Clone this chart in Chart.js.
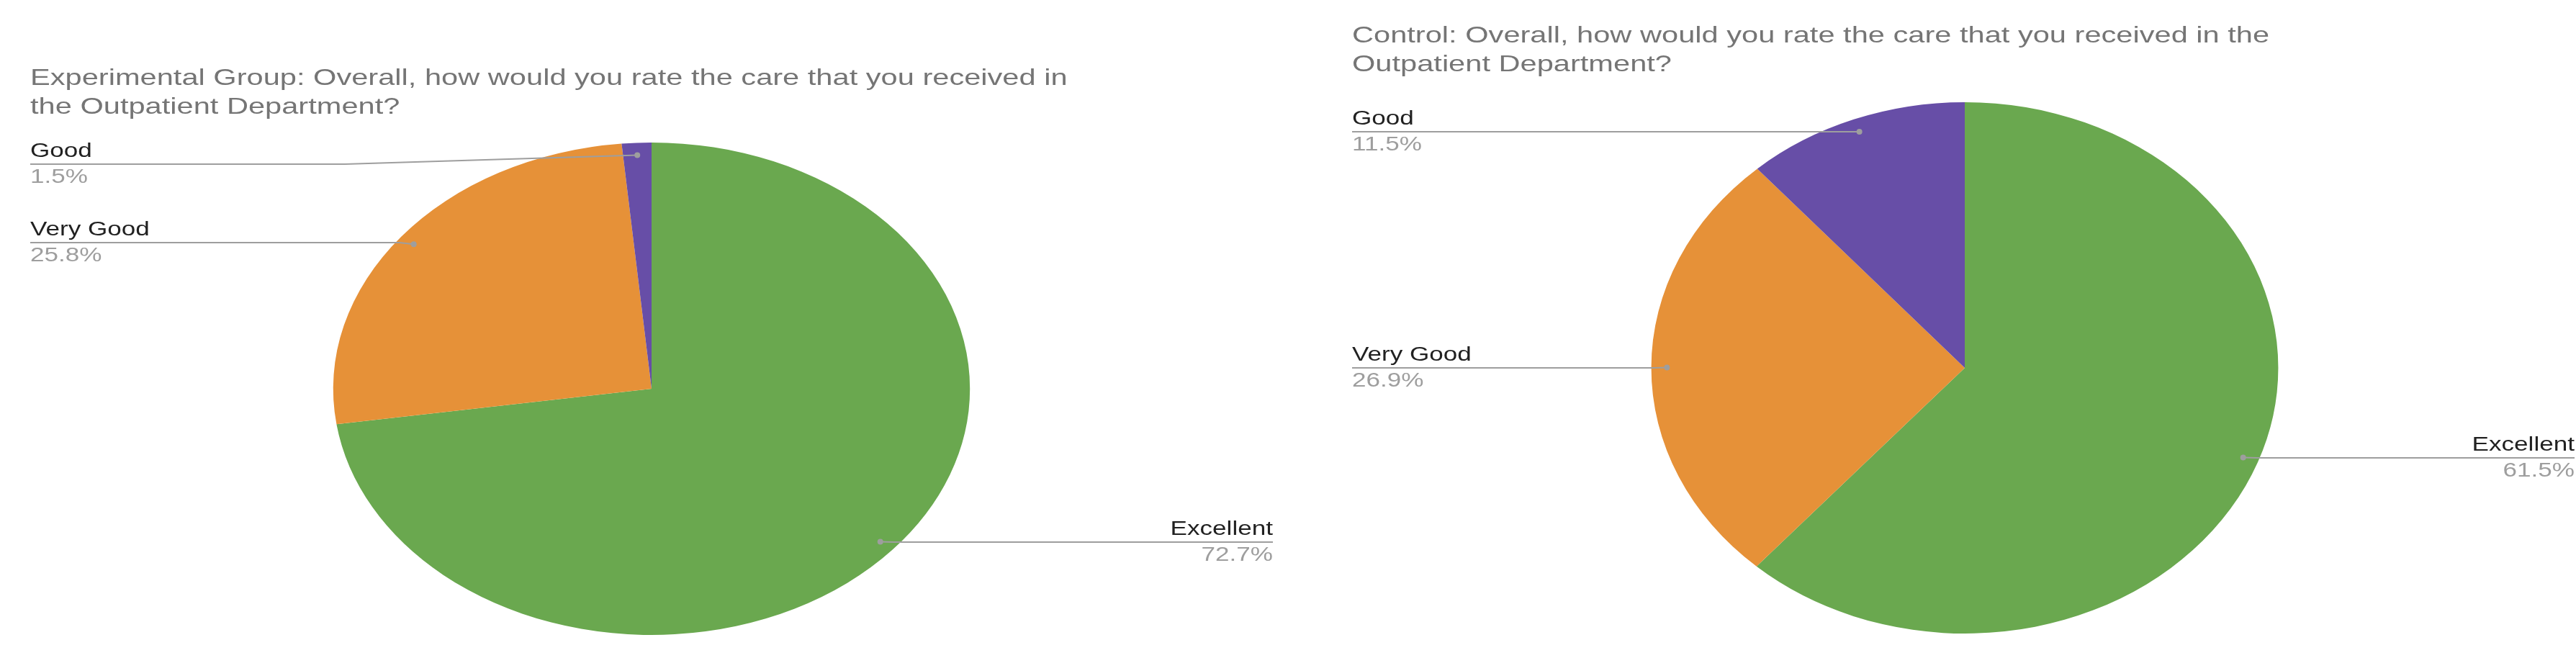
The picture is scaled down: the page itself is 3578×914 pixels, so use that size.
<!DOCTYPE html>
<html>
<head>
<meta charset="utf-8">
<script src="https://cdn.jsdelivr.net/npm/chart.js@4.4.1/dist/chart.umd.min.js"></script>
<style>
  html, body { margin: 0; padding: 0; background: #fff; }
  #wrap { position: relative; width: 3578px; height: 914px; }
  .box { position: absolute; top: 0; height: 914px; }
</style>
</head>
<body>
<div id="wrap">
  <div class="box" style="left:0;width:1790px"><canvas id="expChart" width="1790" height="914"></canvas></div>
  <div class="box" style="left:1790px;width:1788px"><canvas id="ctlChart" width="1788" height="914"></canvas></div>
</div>
<script>
const categories = ['Excellent', 'Very Good', 'Good'];
const expValues = [72.7, 25.8, 1.5];
const ctlValues = [61.5, 26.9, 11.5];
const expTitle = ['Experimental Group: Overall, how would you rate the care that you received in', 'the Outpatient Department?'];
const ctlTitle = ['Control: Overall, how would you rate the care that you received in the', 'Outpatient Department?'];
const sliceColors = ['#6aa84f', '#e69138', '#674ea7'];

const FONT = "'Liberation Sans', Arial, sans-serif";
const TEXT_SX = 1.3;

// text in the reference is stretched horizontally, so draw it the same way
const stretchText = (ctx, str, x, y, align) => {
  ctx.save();
  const w = ctx.measureText(str).width * TEXT_SX;
  ctx.translate(align === 'right' ? x - w : x, y);
  ctx.scale(TEXT_SX, 1);
  ctx.textAlign = 'left';
  ctx.fillText(str, 0, 0);
  ctx.restore();
};

const ellipsePie = {
  id: 'ellipsePie',
  beforeDatasetsDraw(chart, args, opts) {
    const arc = chart.getDatasetMeta(0).data[0];
    const ctx = chart.ctx;
    ctx.save();
    ctx.translate(arc.x, 0);
    ctx.scale(opts.sx, 1);
    ctx.translate(-arc.x, 0);
  },
  afterDatasetsDraw(chart) {
    chart.ctx.restore();
  },
  afterDraw(chart, args, opts) {
    const ctx = chart.ctx;
    ctx.save();
    ctx.fillStyle = '#757575';
    ctx.font = `32px ${FONT}`;
    ctx.textBaseline = 'alphabetic';
    opts.title.forEach((line, i) => stretchText(ctx, line, opts.titleX, opts.titleY + i * 40));

    const meta = chart.getDatasetMeta(0);
    meta.data.forEach((arc, i) => {
      const lab = opts.labels[i];
      const mid = (arc.startAngle + arc.endAngle) / 2;
      const r = arc.outerRadius * 0.95;
      const px = arc.x + Math.cos(mid) * r * opts.sx;
      const py = arc.y + Math.sin(mid) * r;
      const lineY = lab.y + 10;
      ctx.strokeStyle = '#9e9e9e';
      ctx.lineWidth = 2;
      ctx.beginPath();
      if (lab.align === 'right') {
        ctx.moveTo(px, py);
        ctx.lineTo(px + 20, lineY);
        ctx.lineTo(lab.x, lineY);
      } else {
        ctx.moveTo(lab.x, lineY);
        ctx.lineTo(lab.bend || px - 20, lineY);
        ctx.lineTo(px, py);
      }
      ctx.stroke();
      ctx.fillStyle = '#9e9e9e';
      ctx.beginPath();
      ctx.arc(px, py, 4, 0, Math.PI * 2);
      ctx.fill();

      ctx.font = `27px ${FONT}`;
      ctx.fillStyle = '#212121';
      stretchText(ctx, categories[i], lab.x, lab.y, lab.align);
      ctx.fillStyle = '#9e9e9e';
      const val = chart.data.datasets[0].data[i];
      stretchText(ctx, val.toFixed(1) + '%', lab.x, lab.y + 36, lab.align);
    });
    ctx.restore();
  },
};

const makePie = (id, values, padding, pluginOpts) => {
  new Chart(document.getElementById(id), {
    type: 'pie',
    plugins: [ellipsePie],
    data: {
      labels: categories,
      datasets: [{
        data: values,
        backgroundColor: sliceColors,
        borderWidth: 0,
      }],
    },
    options: {
      responsive: false,
      animation: false,
      layout: { padding },
      plugins: {
        legend: { display: false },
        tooltip: { enabled: false },
        ellipsePie: pluginOpts,
      },
    },
  });
};

makePie('expChart', expValues, { top: 198, bottom: 32, left: 563, right: 543 }, {
  sx: 1.293,
  title: expTitle,
  titleX: 42,
  titleY: 118,
  labels: [
    { x: 1768, y: 743, align: 'right' },
    { x: 42, y: 327 },
    { x: 42, y: 218, bend: 479 },
  ],
});

makePie('ctlChart', ctlValues, { top: 142, bottom: 34, left: 570, right: 480 }, {
  sx: 1.18,
  title: ctlTitle,
  titleX: 88,
  titleY: 59,
  labels: [
    { x: 1786, y: 626, align: 'right' },
    { x: 88, y: 501 },
    { x: 88, y: 173 },
  ],
});
</script>
</body>
</html>
